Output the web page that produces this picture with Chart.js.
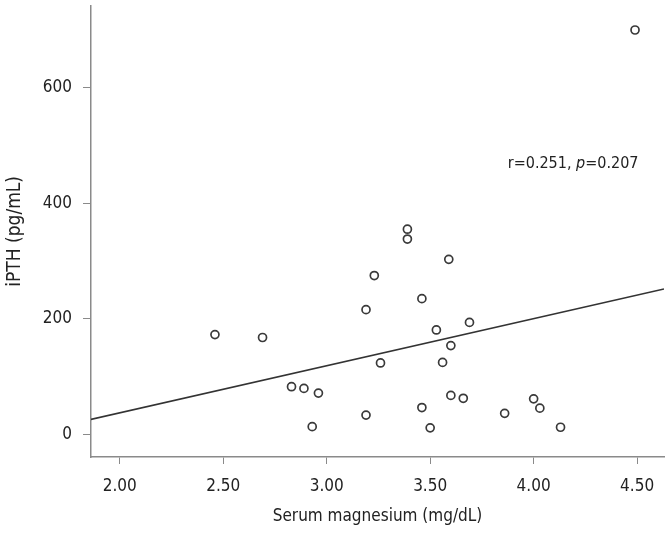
<!DOCTYPE html>
<html lang="en">
<head>
    <meta charset="UTF-8">
    <title>iPTH vs serum magnesium</title>
    <script src="https://cdn.jsdelivr.net/npm/chart.js"></script>
    <style>
        html, body { margin: 0; padding: 0; background: #fff; }
        #wrap { width: 670px; height: 534px; }
    </style>
</head>
<body>
    <div id="wrap"><canvas id="scatter"></canvas></div>
    <script>
        // serum magnesium (mg/dL) and iPTH (pg/mL)
        const magnesium = [2.46, 2.69, 2.83, 2.89, 2.96, 2.93, 3.23, 3.19, 3.46, 3.69, 3.53, 3.60, 3.26, 3.56,
                           3.60, 3.66, 4.00, 4.03, 3.86, 3.46, 3.19, 3.50, 4.13, 4.49, 3.39, 3.39, 3.59];
        const ipth = [173, 168, 83, 80, 72, 14, 275, 216, 235, 194, 181, 154, 124, 125,
                      68, 63, 62, 46, 37, 47, 34, 12, 13, 699, 355, 338, 303];
        // end points of the fitted line
        const fitX = [1.86, 4.63];
        const fitY = [26.5, 251.7];
        const xTicks = [2.00, 2.50, 3.00, 3.50, 4.00, 4.50];
        const yTicks = [0, 200, 400, 600];
        const statText = ["r=0.251, ", "p", "=0.207"];

        const fontFamily = "'DejaVu Sans Condensed', 'Liberation Sans', sans-serif";
        const axisGrey = "#8a8a8a";
        const textColor = "#222";

        const statLabel = {
            id: "statLabel",
            afterDatasetsDraw(chart) {
                const ctx = chart.ctx;
                const x = chart.scales.x.getPixelForValue(3.875);
                const y = chart.scales.y.getPixelForValue(468);
                ctx.save();
                ctx.fillStyle = textColor;
                ctx.textBaseline = "middle";
                let cx = x;
                statText.forEach((part, i) => {
                    ctx.font = (i === 1 ? "italic " : "") + "16px " + fontFamily;
                    ctx.fillText(part, cx, y);
                    cx += ctx.measureText(part).width;
                });
                ctx.restore();
            }
        };

        new Chart(document.getElementById("scatter"), {
            type: "scatter",
            data: {
                datasets: [{
                    data: magnesium.map((m, i) => ({ x: m, y: ipth[i] })),
                    pointRadius: 4,
                    pointBorderWidth: 1.7,
                    pointBorderColor: "#3a3a3a",
                    pointBackgroundColor: "rgba(255,255,255,0)",
                    pointHoverRadius: 4,
                    order: 1,
                }, {
                    type: "line",
                    data: fitX.map((m, i) => ({ x: m, y: fitY[i] })),
                    borderColor: "#333",
                    borderWidth: 1.5,
                    pointRadius: 0,
                    fill: false,
                    order: 2,
                }],
            },
            options: {
                responsive: true,
                maintainAspectRatio: false,
                animation: false,
                layout: { padding: { top: 5, right: 6, left: 0, bottom: 0 } },
                plugins: { legend: { display: false }, tooltip: { enabled: false } },
                scales: {
                    x: {
                        type: "linear",
                        min: 1.861,
                        max: 4.63,
                        afterFit: s => { s.height = 77; s.paddingLeft = 0; s.paddingRight = 0; },
                        afterBuildTicks: s => { s.ticks = xTicks.map(v => ({ value: v })); },
                        ticks: {
                            callback: v => v.toFixed(2),
                            color: textColor,
                            font: { family: fontFamily, size: 17 },
                            padding: 12,
                        },
                        grid: { drawOnChartArea: false, drawTicks: true, tickLength: 7, color: axisGrey },
                        border: { color: axisGrey, width: 1.5 },
                        title: {
                            display: true,
                            text: "Serum magnesium (mg/dL)",
                            color: textColor,
                            font: { family: fontFamily, size: 17 },
                            padding: { top: 0, bottom: 7 },
                        },
                    },
                    y: {
                        min: -38.4,
                        max: 741,
                        afterFit: s => { s.width = 91; s.paddingTop = 0; s.paddingBottom = 0; },
                        afterBuildTicks: s => { s.ticks = yTicks.map(v => ({ value: v })); },
                        ticks: {
                            color: textColor,
                            font: { family: fontFamily, size: 17 },
                            padding: 11,
                        },
                        grid: { drawOnChartArea: false, drawTicks: true, tickLength: 8, color: axisGrey },
                        border: { color: axisGrey, width: 1.5 },
                        title: {
                            display: true,
                            text: "iPTH (pg/mL)",
                            color: textColor,
                            font: { family: fontFamily, size: 19 },
                            padding: { top: 4, bottom: 0 },
                        },
                    },
                },
            },
            plugins: [statLabel],
        });
    </script>
</body>
</html>
